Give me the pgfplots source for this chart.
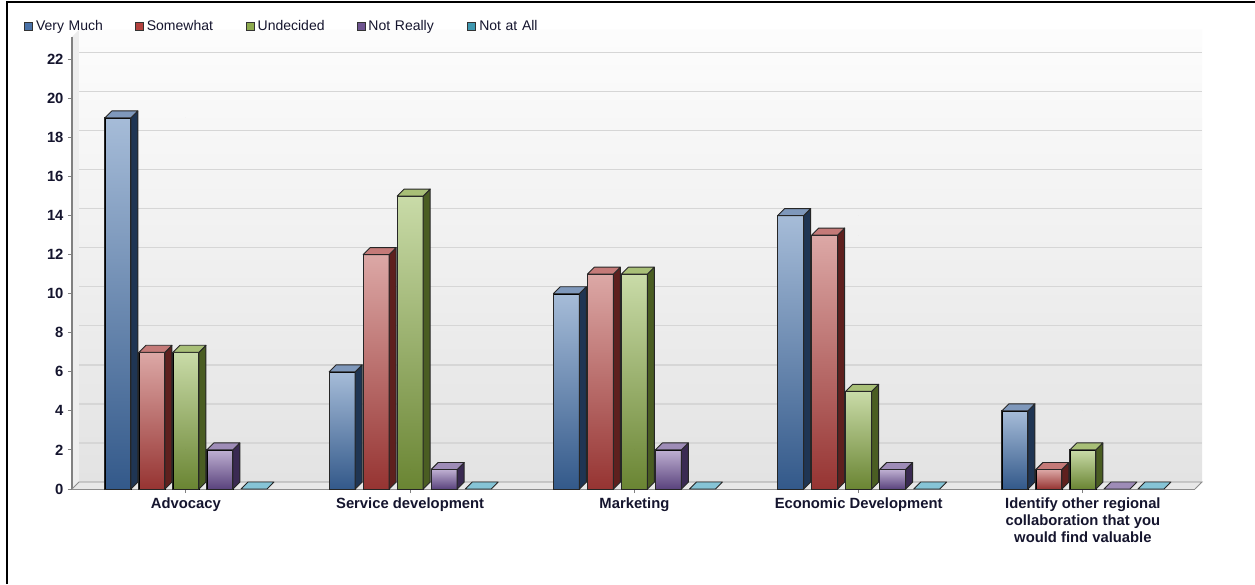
\documentclass[border=0pt]{standalone}
\usepackage{fontspec}
\setmainfont{Liberation Sans}
\usepackage{pgfplots}
\pgfplotsset{compat=1.18}
\definecolor{txt}{HTML}{15152E}
% Very Much
\definecolor{bT}{HTML}{A6BCD8}\definecolor{bM}{HTML}{5580B5}\definecolor{bB}{HTML}{33598A}\definecolor{bS}{HTML}{1F3553}\definecolor{bF}{HTML}{7F98BB}\definecolor{bL}{HTML}{4A72A8}
% Somewhat
\definecolor{rT}{HTML}{DCA8A6}\definecolor{rM}{HTML}{BC5653}\definecolor{rB}{HTML}{963432}\definecolor{rS}{HTML}{5E201E}\definecolor{rF}{HTML}{C47A78}\definecolor{rL}{HTML}{B3413E}
% Undecided
\definecolor{gT}{HTML}{C9DBA8}\definecolor{gM}{HTML}{90AC58}\definecolor{gB}{HTML}{6A8533}\definecolor{gS}{HTML}{4A5D22}\definecolor{gF}{HTML}{A8BF77}\definecolor{gL}{HTML}{8DAA4E}
% Not Really
\definecolor{pT}{HTML}{BFB0D2}\definecolor{pM}{HTML}{76609A}\definecolor{pB}{HTML}{5A437D}\definecolor{pS}{HTML}{3A2A52}\definecolor{pF}{HTML}{9E8CB7}\definecolor{pL}{HTML}{6E5490}
% Not at All
\definecolor{cT}{HTML}{A8D9E6}\definecolor{cM}{HTML}{4AA5BD}\definecolor{cB}{HTML}{3A8BA3}\definecolor{cS}{HTML}{1F5566}\definecolor{cF}{HTML}{86C4D6}\definecolor{cL}{HTML}{3F98B0}

\pgfplotsset{
  bar3d/.style n args={7}{%
    only marks, mark=*, mark size=0pt, mark options={draw=none,fill=none},
    scatter,
    visualization depends on={rawy \as \ry},
    scatter/@pre marker code/.code={%
      \pgfmathsetlengthmacro\hh{\ry*19.53pt}%
      \pgfmathsetlengthmacro\xa{#1-13pt}%
      \pgfmathsetlengthmacro\xb{#1+13pt}%
      \pgfmathsetlengthmacro\xc{#1+20pt}%
      \pgfmathsetlengthmacro\xd{#1-6pt}%
      \ifdim\hh>0.1pt
        \shade[top color=#2, middle color=#3, bottom color=#4] (\xa,-\hh) rectangle (\xb,0pt);
        \draw[black!85, line width=0.9pt] (\xa,-\hh) rectangle (\xb,0pt);
        \filldraw[fill=#5, draw=black!85, line width=0.9pt, line join=round]
          (\xb,-\hh) -- (\xc,-\hh+7pt) -- (\xc,7pt) -- (\xb,0pt) -- cycle;
      \fi
      \filldraw[fill=#6, draw=black!85, line width=0.9pt, line join=round]
        (\xa,0pt) -- (\xd,7pt) -- (\xc,7pt) -- (\xb,0pt) -- cycle;
    },
    scatter/@post marker code/.code={},
    legend image code/.code={\filldraw[fill=#7, draw=black!80, line width=0.8pt] (0pt,-4pt) rectangle (8pt,4pt);},
  }
}

\begin{document}
\begin{tikzpicture}[x=1pt,y=1pt]
\useasboundingbox (0,0) rectangle (1255,584);
\fill[white] (0,0) rectangle (1255,584);
\draw[black, line width=2.2pt] (7,0) -- (7,582) -- (1255,582);
% left side wall
\fill[black!7] (72,95) -- (79,102) -- (79,554) -- (72,547) -- cycle;
% back wall
\begin{axis}[
  at={(79pt,102pt)}, anchor=south west,
  scale only axis, width=1123pt, height=452pt,
  xmin=0, xmax=1, ymin=0, ymax=23.144,
  axis line style={draw=none},
  xtick=\empty, ytick={2,4,...,22}, yticklabels={},
  major tick length=0pt,
  ymajorgrids, major grid style={draw=black!16, line width=1.4pt},
  axis background/.style={shade, top color=black!1, bottom color=black!11},
]
\addplot[draw=none, forget plot] coordinates {(0,0)};
\end{axis}
% front
\begin{axis}[
  at={(72pt,95pt)}, anchor=south west,
  scale only axis, width=1123pt, height=452pt,
  xmin=-0.508, xmax=4.5, ymin=0, ymax=23.144,
  clip=false,
  axis lines*=left,
  axis line style={draw=black!50, line width=1.3pt},
  ytick={0,2,...,22},
  xtick={0,1,2,3,4},
  xticklabels={Advocacy,Service development,Marketing,Economic Development,{Identify other regional\\collaboration that you\\would find valuable}},
  tick align=outside, major tick length=4pt,
  tick style={draw=black!50, line width=1pt},
  tick label style={font=\fontsize{14.8}{17}\selectfont\bfseries, text=txt},
  xticklabel style={align=center, yshift=-1pt},
  yticklabel style={xshift=-1pt},
  /pgf/number format/assume math mode=true,
  legend columns=5,
  legend style={at={(-0.0427,1.024)}, anchor=west, draw=none, fill=none,
    inner sep=0pt, font=\fontsize{14}{16}\selectfont, text=txt,
    nodes={inner xsep=3pt, text width=96pt, align=left}},
]
\path[fill=black!9, draw=black!45, line width=0.9pt]
  (rel axis cs:0,0) -- ([xshift=7pt,yshift=7pt]rel axis cs:0,0) -- ([xshift=7pt,yshift=7pt]rel axis cs:1,0) -- (rel axis cs:1,0);
\addplot[bar3d={-68pt}{bT}{bM}{bB}{bS}{bF}{bL}] coordinates {(0,19) (1,6) (2,10) (3,14) (4,4)};
\addlegendentry{Very Much}
\addplot[bar3d={-34pt}{rT}{rM}{rB}{rS}{rF}{rL}] coordinates {(0,7) (1,12) (2,11) (3,13) (4,1)};
\addlegendentry{Somewhat}
\addplot[bar3d={0pt}{gT}{gM}{gB}{gS}{gF}{gL}] coordinates {(0,7) (1,15) (2,11) (3,5) (4,2)};
\addlegendentry{Undecided}
\addplot[bar3d={34pt}{pT}{pM}{pB}{pS}{pF}{pL}] coordinates {(0,2) (1,1) (2,2) (3,1) (4,0)};
\addlegendentry{Not Really}
\addplot[bar3d={68pt}{cT}{cM}{cB}{cS}{cF}{cL}] coordinates {(0,0) (1,0) (2,0) (3,0) (4,0)};
\addlegendentry{Not at All}
\end{axis}
\end{tikzpicture}
\end{document}
